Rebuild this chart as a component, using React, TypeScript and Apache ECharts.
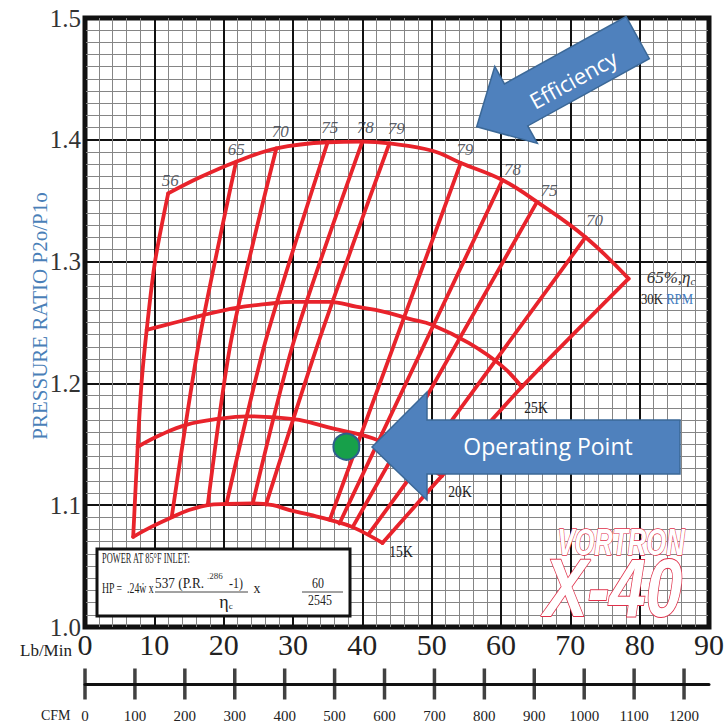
import React, { useEffect, useRef } from 'react';
import * as echarts from 'echarts';

// ---------- data ----------
const cfmTicks = [0, 100, 200, 300, 400, 500, 600, 700, 800, 900, 1000, 1100, 1200];

// speed lines (Lb/Min, pressure ratio)
const speed30K = [[12.0, 1.356], [16.5, 1.369], [21.8, 1.382], [27.6, 1.393], [35.0, 1.398], [40.0, 1.3985], [43.9, 1.397], [50.1, 1.391], [54.2, 1.381], [60.2, 1.367], [65.2, 1.349], [72.2, 1.32], [78.4, 1.286]];
const speed25K = [[8.9, 1.244], [13.0, 1.25], [17.0, 1.256], [21.8, 1.262], [26.0, 1.265], [30.0, 1.267], [35.3, 1.267], [39.1, 1.263], [43.0, 1.259], [46.8, 1.253], [50.1, 1.248], [55.4, 1.233], [60.2, 1.214], [63.0, 1.197]];
const speed20K = [[7.6, 1.148], [11.0, 1.158], [14.6, 1.166], [19.4, 1.171], [23.3, 1.173], [27.6, 1.172], [30.9, 1.17], [35.7, 1.163], [41.5, 1.155], [46.5, 1.141], [51.5, 1.124]];
const speed15K = [[6.95, 1.074], [9.5, 1.082], [12.5, 1.09], [15.0, 1.096], [17.7, 1.1], [20.4, 1.101], [24.2, 1.1015], [27.1, 1.1], [29.5, 1.096], [32.5, 1.092], [35.3, 1.088], [38.6, 1.082], [42.9, 1.069]];

// surge (56%) and choke (65%) boundaries
const surgeLine = [[6.95, 1.074], [7.6, 1.148], [8.15, 1.2], [8.9, 1.244], [10.1, 1.3], [12.0, 1.356]];
const chokeLine = [[78.4, 1.286], [63.0, 1.197], [42.9, 1.069]];

// efficiency lines
const eff65 = [[21.8, 1.382], [16.5, 1.236], [12.5, 1.09]];
const eff70 = [[27.6, 1.393], [21.1, 1.236], [17.7, 1.1]];
const eff75 = [[35.0, 1.398], [26.1, 1.236], [20.4, 1.101]];
const eff78 = [[40.0, 1.3985], [30.2, 1.236], [24.2, 1.1015]];
const eff79 = [[43.9, 1.397], [33.8, 1.236], [26.1, 1.1005]];
const eff79b = [[54.2, 1.381], [35.3, 1.088]];
const eff78b = [[60.2, 1.367], [36.7, 1.085]];
const eff75b = [[65.2, 1.349], [38.6, 1.082]];
const eff70b = [[72.2, 1.32], [41.0, 1.077]];

const effLines = [eff65, eff70, eff75, eff78, eff79, eff79b, eff78b, eff75b, eff70b];

const effLabelText = ['56', '65', '70', '75', '78', '79', '79', '78', '75', '70'];
const effLabelAnchors = [surgeLine[surgeLine.length - 1], ...effLines.map((l) => l[0])];
const effLabelOffsets = [[2, -13], [0, -12], [4, -17], [2, -15], [3, -14], [7, -15], [4, -13], [10, -10], [12, -11], [9, -17]];

const operatingPoint = [37.7, 1.148];

// ---------- styles ----------
const SERIF = '"Liberation Serif", "DejaVu Serif", serif';
const SANS = '"Open Sans", "Noto Sans", sans-serif';
const RED = '#e8232b';
const BLUE = '#4f81bd';

function redLine(data: number[][], smooth: number | boolean) {
  return {
    type: 'line',
    data,
    symbol: 'none',
    smooth,
    silent: true,
    xAxisIndex: 0,
    yAxisIndex: 0,
    lineStyle: { color: RED, width: 3.8, cap: 'round', join: 'round' },
    z: 3,
  };
}

function txt(text: string, x: number, y: number, o: any = {}) {
  return {
    type: 'text',
    x,
    y,
    z: 60,
    scaleX: o.scaleX ?? 1,
    rotation: o.rotation ?? 0,
    style: {
      text,
      fill: o.fill ?? '#222',
      fontSize: o.size ?? 14,
      fontFamily: o.family ?? SERIF,
      fontStyle: o.italic ? 'italic' : 'normal',
      fontWeight: o.bold ? 'bold' : 'normal',
      align: o.align ?? 'center',
      verticalAlign: 'middle',
      stroke: o.stroke,
      lineWidth: o.lineWidth ?? 0,
      rich: o.rich,
    },
  };
}

function blockArrow(tip: number[], dir: number[], length: number, headLen: number, headHalf: number, shaftHalf: number) {
  const [tx, ty] = tip;
  const len = Math.hypot(dir[0], dir[1]);
  const ux = dir[0] / len;
  const uy = dir[1] / len;
  const nx = -uy;
  const ny = ux;
  const p = (a: number, b: number) => [tx + ux * a + nx * b, ty + uy * a + ny * b];
  return [p(0, 0), p(headLen, headHalf), p(headLen, shaftHalf), p(length, shaftHalf), p(length, -shaftHalf), p(headLen, -shaftHalf), p(headLen, -headHalf)];
}

export default function App() {
  const ref = useRef<HTMLDivElement>(null);

  useEffect(() => {
    if (!ref.current) return;
    const chart = echarts.init(ref.current, undefined, { renderer: 'svg' });

    const effSeries = [redLine(surgeLine, 0.3), redLine(chokeLine, 0.2), ...effLines.map((l) => redLine(l, 0.25))];
    const speedSeries = [speed30K, speed25K, speed20K, speed15K].map((s) => redLine(s, 0.4));

    const option: any = {
      animation: false,
      backgroundColor: '#fff',
      grid: [
        { left: 85, top: 18, width: 625, height: 609, show: true, borderColor: '#111', borderWidth: 5, backgroundColor: '#fff', z: 0 },
        { left: 85, top: 670, width: 624, height: 14, show: false },
      ],
      xAxis: [
        {
          type: 'value',
          gridIndex: 0,
          min: 0,
          max: 90,
          interval: 10,
          axisLine: { show: false },
          axisTick: { show: false },
          axisLabel: { fontSize: 30, fontFamily: SERIF, color: '#222', margin: 2 },
          splitLine: { show: true, lineStyle: { color: '#111', width: 2 } },
          minorTick: { show: false, splitNumber: 5 },
          minorSplitLine: { show: true, lineStyle: { color: '#858585', width: 1 } },
        },
        {
          type: 'value',
          gridIndex: 1,
          min: 0,
          max: 1250,
          interval: 100,
          axisLine: { show: true, onZero: false, lineStyle: { color: '#111', width: 3 } },
          axisTick: { show: false },
          splitLine: { show: false },
          axisLabel: {
            fontSize: 15,
            fontFamily: SERIF,
            color: '#222',
            margin: 24,
            showMaxLabel: false,
            formatter: (v: number) => (cfmTicks.indexOf(v) >= 0 ? String(v) : ''),
          },
        },
      ],
      yAxis: [
        {
          type: 'value',
          gridIndex: 0,
          min: 1.0,
          max: 1.5,
          interval: 0.1,
          axisLine: { show: false },
          axisTick: { show: false },
          axisLabel: { fontSize: 25, fontFamily: SERIF, color: '#333', margin: 4, padding: [6, 0, 0, 0], formatter: (v: number) => v.toFixed(1) },
          splitLine: { show: true, lineStyle: { color: '#111', width: 2 } },
          minorTick: { show: false, splitNumber: 10 },
          minorSplitLine: { show: true, lineStyle: { color: '#858585', width: 1 } },
        },
        { type: 'value', gridIndex: 1, min: 0, max: 1, show: false },
      ],
      series: [
        ...speedSeries,
        ...effSeries,
        {
          type: 'scatter',
          xAxisIndex: 0,
          yAxisIndex: 0,
          silent: true,
          symbolSize: 1,
          itemStyle: { color: 'transparent' },
          data: effLabelAnchors.map((p, i) => ({ value: p, label: { offset: effLabelOffsets[i] } })),
          label: {
            show: true,
            position: 'inside',
            formatter: (p: any) => effLabelText[p.dataIndex],
            fontFamily: SERIF,
            fontStyle: 'italic',
            fontSize: 17,
            color: '#2f3642',
          },
          z: 5,
        },
        {
          type: 'scatter',
          xAxisIndex: 0,
          yAxisIndex: 0,
          silent: true,
          data: [operatingPoint],
          symbolSize: 26,
          itemStyle: { color: '#17a04a', borderColor: '#2d5f8c', borderWidth: 2, opacity: 1 },
          z: 6,
        },
        {
          type: 'scatter',
          xAxisIndex: 1,
          yAxisIndex: 1,
          silent: true,
          clip: false,
          data: cfmTicks.map((v) => [v, 0]),
          symbol: 'rect',
          symbolSize: [3.5, 31],
          itemStyle: { color: '#111' },
          z: 5,
        },
      ],
      graphic: [
        // y-axis title
        txt('PRESSURE RATIO P2o/P1o', 40, 316, { size: 21, fill: '#4a7fb8', rotation: Math.PI / 2 }),
        txt('Lb/Min', 20, 650, { size: 17, align: 'left', fill: '#222' }),
        txt('CFM', 41, 715, { size: 14, align: 'left', fill: '#222' }),
        // efficiency arrow
        {
          type: 'polygon',
          z: 55,
          shape: { points: blockArrow([476.7, 126.7], [0.875, -0.484], 184, 45, 44, 24) },
          style: { fill: BLUE, stroke: '#3b6897', lineWidth: 1.5 },
        },
        txt('Efficiency', 573, 79, { size: 22, family: SANS, fill: '#fff', rotation: 0.505 }),
        // operating point arrow
        {
          type: 'polygon',
          z: 55,
          shape: { points: [[372, 447], [427, 392], [427, 420], [680, 420], [680, 474], [427, 474], [427, 500]] },
          style: { fill: BLUE, stroke: '#3b6897', lineWidth: 1.5 },
        },
        txt('Operating Point', 548, 446, { size: 23, family: SANS, fill: '#fff' }),
        // speed labels
        txt('25K', 536, 408, { size: 16, scaleX: 0.85 }),
        txt('20K', 460, 492, { size: 16, scaleX: 0.85 }),
        txt('15K', 401, 552, { size: 16, scaleX: 0.85 }),
        txt('{a|65%,η}{b|c}', 671, 277, {
          size: 17,
          rich: {
            a: { fontFamily: SERIF, fontStyle: 'italic', fontSize: 17, fill: '#333' },
            b: { fontFamily: SERIF, fontStyle: 'italic', fontSize: 11, fill: '#333', padding: [8, 0, 0, 0] },
          },
        }),
        txt('{a|30K }{b|RPM}', 667, 299, {
          size: 15,
          scaleX: 0.85,
          rich: {
            a: { fontFamily: SERIF, fontSize: 15, fill: '#222' },
            b: { fontFamily: SERIF, fontSize: 15, fill: '#3f7cc0' },
          },
        }),
        // formula box
        { type: 'rect', z: 58, shape: { x: 97, y: 549, width: 253, height: 67 }, style: { fill: '#fff', stroke: '#111', lineWidth: 3 } },
        txt('POWER AT 85°F INLET:', 102, 558, { size: 14, scaleX: 0.6, align: 'left', fill: '#222' }),
        txt('HP =  .24ẇ x', 102, 588, { size: 14, scaleX: 0.7, align: 'left', fill: '#222' }),
        txt('537 (P.R.', 155, 583, { size: 14, scaleX: 0.95, align: 'left', fill: '#222' }),
        txt('.286', 207, 576, { size: 9, align: 'left', fill: '#333' }),
        txt('-1)', 229, 583, { size: 14, scaleX: 0.85, align: 'left', fill: '#222' }),
        { type: 'line', z: 60, shape: { x1: 155, y1: 592, x2: 248, y2: 592 }, style: { stroke: '#444', lineWidth: 1 } },
        txt('{a|η}{b|c}', 226, 602, {
          size: 16,
          rich: {
            a: { fontFamily: SERIF, fontSize: 18, fill: '#222' },
            b: { fontFamily: SERIF, fontSize: 9, fill: '#222', padding: [8, 0, 0, 0] },
          },
        }),
        txt('x', 257, 588, { size: 14, fill: '#222' }),
        txt('60', 318, 583, { size: 14, scaleX: 0.85, fill: '#222' }),
        { type: 'line', z: 60, shape: { x1: 302, y1: 592, x2: 343, y2: 592 }, style: { stroke: '#444', lineWidth: 1 } },
        txt('2545', 320, 600, { size: 14, scaleX: 0.85, fill: '#222' }),
        // logo
        txt('VORTRON', 621, 542, { size: 37, bold: true, italic: true, family: '"Liberation Sans", sans-serif', scaleX: 0.69, fill: '#fff', stroke: '#e0304a', lineWidth: 1.4 }),
        txt('X-40', 613, 588, { size: 82, bold: true, italic: true, family: '"Liberation Sans", sans-serif', scaleX: 0.8, fill: '#fff', stroke: '#e0304a', lineWidth: 1.8 }),
      ],
    };

    chart.setOption(option);
    return () => chart.dispose();
  }, []);

  return <div ref={ref} style={{ position: 'fixed', left: 0, top: 0, width: 727, height: 723, background: '#fff' }} />;
}
